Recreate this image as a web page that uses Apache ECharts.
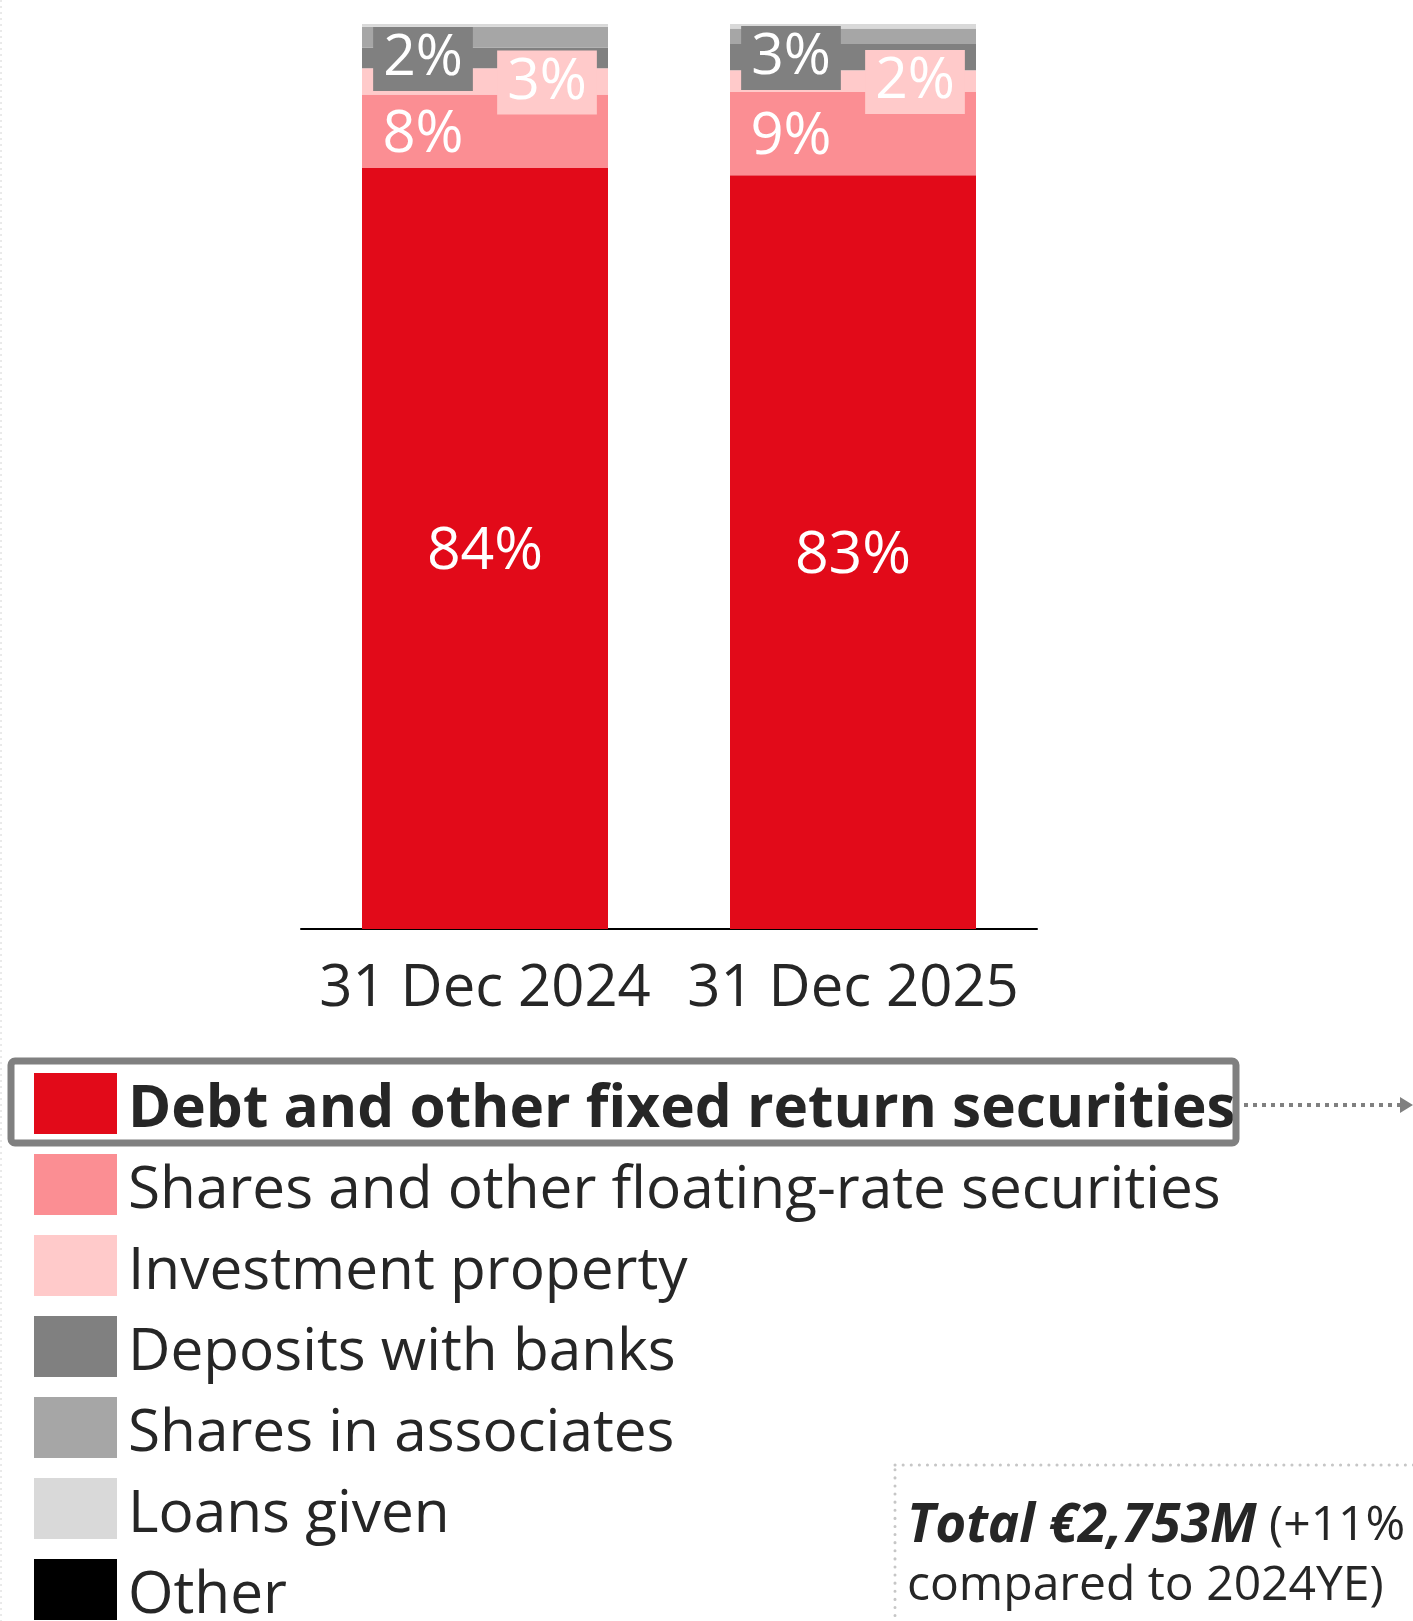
<!DOCTYPE html>
<html>
<head>
<meta charset="utf-8">
<script src="https://cdn.jsdelivr.net/npm/echarts@6/dist/echarts.min.js"></script>
<style>
html,body{margin:0;padding:0;background:#fff;}
#chart{width:1413px;height:1621px;}
</style>
</head>
<body>
<div id="chart"></div>
<script>
const categories = ['31 Dec 2024', '31 Dec 2025'];
const seriesNames = [
  'Debt and other fixed return securities',
  'Shares and other floating-rate securities',
  'Investment property',
  'Deposits with banks',
  'Shares in associates',
  'Loans given',
  'Other'
];
const debtValues = [84.1, 83.3];
const sharesFloatValues = [8.1, 9.2];
const propertyValues = [2.9, 2.4];
const depositsValues = [2.3, 2.9];
const associatesValues = [2.3, 1.7];
const loansValues = [0.3, 0.5];
const otherValues = [0, 0];
const totalMain = 'Total €2,753M';
const totalRest = ' (+11%';
const totalLine2 = 'compared to 2024YE)';

const colors = ['#e20a19', '#fb8e93', '#ffcaca', '#808080', '#a6a6a6', '#d9d9d9', '#000000'];
const valueSets = [debtValues, sharesFloatValues, propertyValues, depositsValues, associatesValues, loansValues, otherValues];
const FONT = 'Open Sans';
const pct = p => Math.round(p.value) + '%';

const labelCfg = [
  { show: true, position: 'inside', offset: [0, 4], formatter: pct, color: '#fff', fontSize: 59, fontFamily: FONT },
  { show: true, position: 'inside', offset: [-62, 4], formatter: pct, color: '#fff', fontSize: 58, fontFamily: FONT },
  { show: true, position: 'inside', offset: [62, 1], formatter: pct, color: '#fff', fontSize: 57, fontFamily: FONT,
    backgroundColor: '#ffcaca', padding: [4, 10], lineHeight: 56 },
  { show: true, position: 'inside', offset: [-62, 1], formatter: pct, color: '#fff', fontSize: 57, fontFamily: FONT,
    backgroundColor: '#808080', padding: [4, 10], lineHeight: 56 },
  { show: false }, { show: false }, { show: false }
];

const series = seriesNames.map((name, i) => ({
  name: name,
  type: 'bar',
  stack: 'total',
  barWidth: 246,
  data: valueSets[i],
  itemStyle: { color: colors[i] },
  label: labelCfg[i],
  emphasis: { disabled: true },
  z: 2
}));

const legendText = { fontSize: 58.5, fontFamily: FONT, color: '#262626', padding: [0, 0, 0, 6] };
// swatch 83x61 drawn at top of a 83x74 item box (degenerate segment only extends the bounds)
const swatchIcon = 'path://M0,0L83,0L83,61L0,61ZM0,74L83,74';

const chart = echarts.init(document.getElementById('chart'), null, { renderer: 'canvas' });
chart.setOption({
  animation: false,
  backgroundColor: '#ffffff',
  grid: { left: 301, top: 24, width: 736, height: 905 },
  xAxis: {
    type: 'category',
    data: categories,
    axisLine: { lineStyle: { color: '#000', width: 2 } },
    axisTick: { show: false },
    axisLabel: { color: '#262626', fontSize: 58, fontFamily: FONT, margin: 31, interval: 0 }
  },
  yAxis: { type: 'value', min: 0, max: 100, show: false, splitLine: { show: false } },
  legend: {
    orient: 'vertical',
    left: 34,
    top: 1073,
    height: 620,
    padding: 0,
    itemWidth: 83,
    itemHeight: 74,
    itemGap: 7,
    icon: swatchIcon,
    selectedMode: false,
    textStyle: legendText,
    data: seriesNames.map((n, i) => i === 0
      ? { name: n, textStyle: Object.assign({}, legendText, { fontWeight: 'bold' }) }
      : { name: n })
  },
  series: series,
  graphic: [
    { type: 'line', shape: { x1: 1, y1: 0, x2: 1, y2: 1621 },
      style: { stroke: '#d4d4d4', lineWidth: 1, lineDash: [2, 4] }, silent: true },
    { type: 'rect', shape: { x: 11, y: 1061, width: 1225, height: 82, r: 4 },
      style: { fill: null, stroke: '#808080', lineWidth: 7 }, z: 10, silent: true },
    { type: 'line', shape: { x1: 1244, y1: 1105, x2: 1400, y2: 1105 },
      style: { stroke: '#808080', lineWidth: 4, lineDash: [4, 5] }, silent: true },
    { type: 'polygon', shape: { points: [[1400, 1097], [1413, 1105], [1400, 1113]] },
      style: { fill: '#808080' }, silent: true },
    { type: 'rect', shape: { x: 895, y: 1465, width: 560, height: 220 },
      style: { fill: null, stroke: '#c6c6c6', lineWidth: 3, lineDash: [0.1, 8], lineCap: 'round' }, silent: true },
    { type: 'text', left: 907, top: 1500, silent: true,
      style: {
        text: '{b|' + totalMain + '}{r|' + totalRest + '}\n{r|' + totalLine2 + '}',
        rich: {
          b: { fontFamily: FONT, fontSize: 53, fontWeight: 'bold', fontStyle: 'italic', fill: '#262626', lineHeight: 60 },
          r: { fontFamily: FONT, fontSize: 48, fill: '#262626', lineHeight: 60 }
        }
      } }
  ]
});
</script>
</body>
</html>
